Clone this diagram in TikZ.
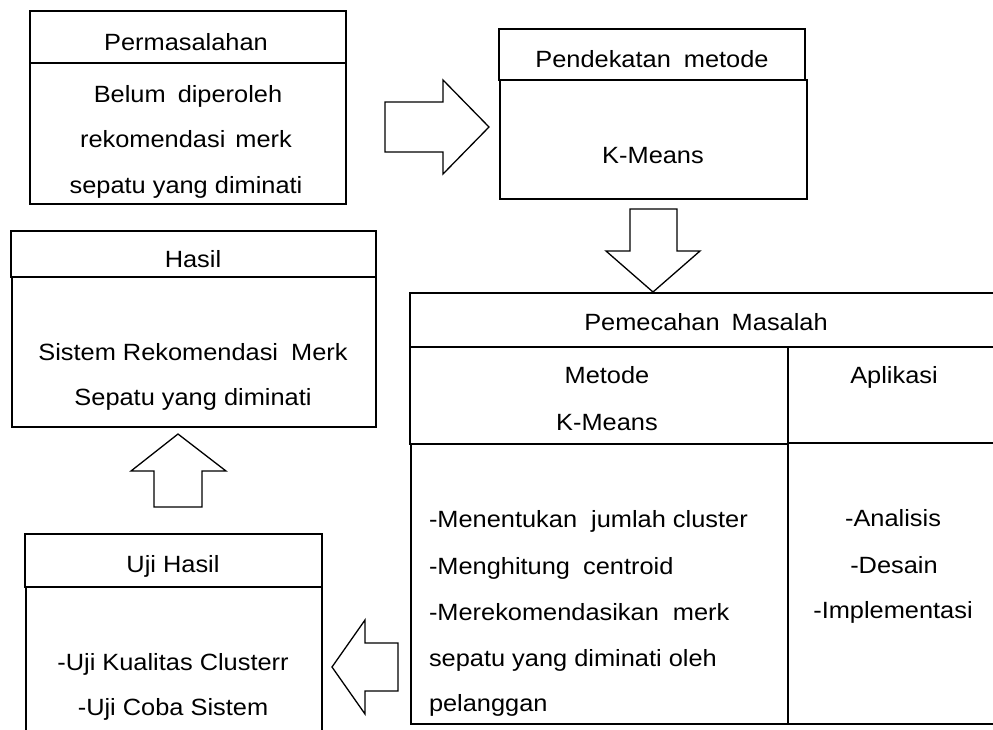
\documentclass[tikz,border=0pt]{standalone}
\usepackage{fontspec}
\setmainfont{Liberation Sans}[FakeStretch=1.08]
\begin{document}
\begin{tikzpicture}[x=1pt,y=-1pt,
  every node/.style={inner sep=0pt,outer sep=0pt},
  box/.style={draw,line width=1.5pt,anchor=north west,minimum width=#1},
  txt/.style={anchor=base,font=\fontsize{23.5}{28}\selectfont},
  txtl/.style={anchor=base west,font=\fontsize{23.5}{28}\selectfont},
  blk/.style={draw,line width=1.3pt,fill=white,line join=miter}]
\useasboundingbox (0,0) rectangle (993,729);
\clip (0,0) rectangle (993,729);
% Permasalahan
\node[box=316pt,minimum height=52pt] (permH) at (30,11) {};
\node[box=316pt,minimum height=141pt] (permB) at (30,63) {};
\node[txt] (permT) at (186,50) {Permasalahan};
\node[txt] (permL1) at (188,102) {Belum\hspace{5pt} diperoleh};
\node[txt] (permL2) at (186,147) {rekomendasi\hspace{3pt} merk};
\node[txt] (permL3) at (186,193) {sepatu yang diminati};
% Pendekatan metode
\node[box=306pt,minimum height=51pt] (pendH) at (499,29) {};
\node[box=307pt,minimum height=119pt] (pendB) at (500,80) {};
\node[txt] (pendT) at (652,67) {Pendekatan\hspace{6pt} metode};
\node[txt] (pendL1) at (653,163) {K-Means};
% Hasil
\node[box=365pt,minimum height=46pt] (hasH) at (11,231) {};
\node[box=364pt,minimum height=150pt] (hasB) at (12,277) {};
\node[txt] (hasT) at (193,267) {Hasil};
\node[txt] (hasL1) at (193,360) {Sistem Rekomendasi\hspace{6pt} Merk};
\node[txt] (hasL2) at (193,405) {Sepatu yang diminati};
% Uji Hasil
\node[box=297pt,minimum height=53pt] (ujiH) at (25,534) {};
\node[box=296pt,minimum height=160pt] (ujiB) at (26,587) {};
\node[txt] (ujiT) at (173,572) {Uji Hasil};
\node[txt] (ujiL1) at (173,670) {-Uji Kualitas Clusterr};
\node[txt] (ujiL2) at (173,715) {-Uji Coba Sistem};
% Pemecahan Masalah
\node[box=600pt,minimum height=54pt] (pemH) at (410,293) {};
\node[box=378pt,minimum height=97pt] (pemM) at (410,347) {};
\node[box=250pt,minimum height=96pt] (pemA) at (788,347) {};
\node[box=377pt,minimum height=280pt] (pemML) at (411,444) {};
\node[box=250pt,minimum height=281pt] (pemAL) at (788,443) {};
\node[txt] (pemT) at (706,330) {Pemecahan\hspace{5pt} Masalah};
\node[txt] (metT1) at (607,383) {Metode};
\node[txt] (metT2) at (607,430) {K-Means};
\node[txt] (aplT) at (894,383) {Aplikasi};
\node[txtl] (metL1) at (429,527) {-Menentukan\hspace{7pt} jumlah cluster};
\node[txtl] (metL2) at (429,574) {-Menghitung\hspace{6pt} centroid};
\node[txtl] (metL3) at (429,620) {-Merekomendasikan\hspace{7pt} merk};
\node[txtl] (metL4) at (429,666) {sepatu yang diminati oleh};
\node[txtl] (metL5) at (429,711) {pelanggan};
\node[txt] (aplL1) at (893,526) {-Analisis};
\node[txt] (aplL2) at (894,573) {-Desain};
\node[txt] (aplL3) at (893,618) {-Implementasi};
% block arrows
\draw[blk] (385,102) -- (443,102) -- (443,80) -- (489,127) -- (443,174) -- (443,152) -- (385,152) -- cycle;
\draw[blk] (630,209) -- (677,209) -- (677,251) -- (700,251) -- (653,292) -- (606,251) -- (630,251) -- cycle;
\draw[blk] (178,434) -- (226,471) -- (202,471) -- (202,507) -- (154,507) -- (154,471) -- (131,471) -- cycle;
\draw[blk] (332,667) -- (365,620) -- (365,643) -- (398,643) -- (398,691) -- (365,691) -- (365,714) -- cycle;
\end{tikzpicture}
\end{document}
